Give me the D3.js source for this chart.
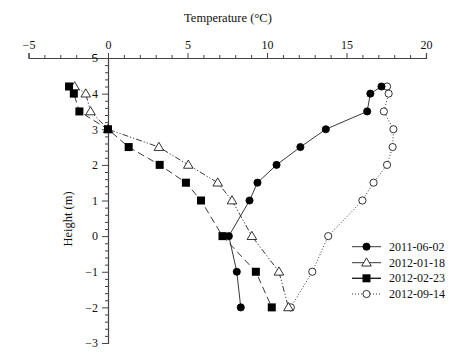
<!DOCTYPE html>
<html>
<head>
<meta charset="utf-8">
<script src="https://cdn.jsdelivr.net/npm/d3@7"></script>
<style>
  html, body { margin: 0; padding: 0; background: #fff; }
  svg text { font-family: "Liberation Serif", "DejaVu Serif", serif; fill: #111; }
</style>
</head>
<body>
<svg id="chart" width="460" height="356"></svg>
<script>
// ---- data ----
const heights = [4.2, 4, 3.5, 3, 2.5, 2, 1.5, 1, 0, -1, -2];
const series2011_06_02 = [17.2, 16.5, 16.3, 13.7, 12.1, 10.6, 9.4, 8.9, 7.6, 8.1, 8.35];
const series2012_01_18 = [-2.1, -1.4, -1.1, 0.0, 3.2, 5.05, 6.9, 7.8, 9.05, 10.75, 11.35];
const series2012_02_23 = [-2.45, -2.15, -1.8, 0.0, 1.3, 3.25, 4.9, 5.85, 7.2, 9.3, 10.3];
const series2012_09_14 = [17.55, 17.65, 17.35, 17.95, 17.9, 17.55, 16.7, 16.0, 13.85, 12.85, 11.5];
const seriesNames = ["2011-06-02", "2012-01-18", "2012-02-23", "2012-09-14"];
const xTicks = [-5, 0, 5, 10, 15, 20];
const yTicks = [5, 4, 3, 2, 1, 0, -1, -2, -3];
const xLabel = "Temperature (°C)";
const yLabel = "Height (m)";

// ---- layout ----
const svg = d3.select("#chart");
const x = d3.scaleLinear().domain([-5, 20]).range([28.5, 426]);
const y = d3.scaleLinear().domain([-3, 5]).range([343, 58]);
const axisColor = "#444";
const fmt = d => (d < 0 ? "\u2212" + Math.abs(d) : String(d));

// x axis (top, at y = 5)
const xg = svg.append("g").attr("transform", `translate(0,${y(5)})`);
xg.call(d3.axisTop(x).tickValues(xTicks).tickSize(5).tickPadding(4).tickFormat(fmt));
xg.append("g").call(d3.axisTop(x).tickValues(d3.range(-5, 21, 1).filter(v => v % 5 !== 0)).tickSize(3).tickFormat(""))
  .select(".domain").remove();
xg.selectAll("text").attr("font-size", 12).style("font-family", '"Liberation Serif", serif').attr("fill", "#111");

// y axis (at x = 0)
const yg = svg.append("g").attr("transform", `translate(${x(0)},0)`);
yg.call(d3.axisLeft(y).tickValues(yTicks).tickSize(6).tickPadding(4).tickFormat(fmt));
yg.append("g").call(d3.axisLeft(y).tickValues(d3.range(-3, 5.001, 0.2).map(v => +v.toFixed(1)).filter(v => Math.abs(v - Math.round(v)) > 0.01)).tickSize(3).tickFormat(""))
  .select(".domain").remove();
yg.selectAll("text").attr("font-size", 12).style("font-family", '"Liberation Serif", serif').attr("fill", "#111");

svg.selectAll(".domain").attr("stroke", axisColor).attr("stroke-width", 1.2);
svg.selectAll(".tick line").attr("stroke", axisColor);

// axis titles
svg.append("text").attr("x", 228).attr("y", 22).attr("text-anchor", "middle")
  .attr("font-size", 12.5).text(xLabel);
svg.append("text").attr("transform", "translate(72,219) rotate(-90)").attr("text-anchor", "middle")
  .attr("font-size", 12.5).text(yLabel);

// ---- series ----
const allSeries = [series2011_06_02, series2012_01_18, series2012_02_23, series2012_09_14];
const styles = [
  { dash: null, marker: "circle", fill: "#000" },
  { dash: "6,2,1.2,2,1.2,2", marker: "triangle", fill: "#fff" },
  { dash: "7,4", marker: "square", fill: "#000" },
  { dash: "1,2", marker: "circle", fill: "#fff" }
];

const line = d3.line().x(d => x(d[0])).y(d => y(d[1]));

function drawMarker(g, type, cx, cy, fill) {
  if (type === "circle") {
    g.append("circle").attr("cx", cx).attr("cy", cy).attr("r", 3.6)
      .attr("fill", fill).attr("stroke", "#000").attr("stroke-width", 0.8);
  } else if (type === "square") {
    g.append("rect").attr("x", cx - 4).attr("y", cy - 4).attr("width", 8).attr("height", 8)
      .attr("fill", fill);
  } else {
    const s = 4.8;
    g.append("path").attr("d", `M${cx},${cy - s}L${cx + s},${cy + s * 0.7}L${cx - s},${cy + s * 0.7}Z`)
      .attr("fill", fill).attr("stroke", "#000").attr("stroke-width", 0.8);
  }
}

allSeries.forEach((vals, i) => {
  const pts = vals.map((v, j) => [v, heights[j]]);
  const st = styles[i];
  svg.append("path").datum(pts).attr("d", line).attr("fill", "none")
    .attr("stroke", "#222").attr("stroke-width", 0.9)
    .attr("stroke-dasharray", st.dash);
});
// markers drawn after all lines
[3, 1, 2, 0].forEach(i => {
  const g = svg.append("g");
  allSeries[i].forEach((v, j) => drawMarker(g, styles[i].marker, x(v), y(heights[j]), styles[i].fill));
});

// ---- legend ----
const legY = [246.7, 262.7, 278.3, 294];
seriesNames.forEach((name, i) => {
  const g = svg.append("g");
  const st = styles[i];
  g.append("line").attr("x1", 352).attr("x2", 381).attr("y1", legY[i]).attr("y2", legY[i])
    .attr("stroke", "#222").attr("stroke-width", i === 2 ? 1.4 : 0.9)
    .attr("stroke-dasharray", i === 3 ? "1,2" : null);
  drawMarker(g, st.marker, 366.5, legY[i], st.fill);
  g.append("text").attr("x", 389).attr("y", legY[i] + 4).attr("font-size", 12).text(name);
});
</script>
</body>
</html>
